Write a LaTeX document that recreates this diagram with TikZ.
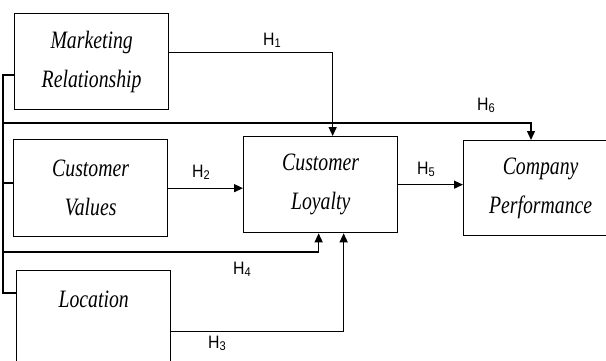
\documentclass[tikz,border=0pt]{standalone}
\usepackage{fontspec}
\newfontfamily\boxfont[FakeStretch=0.79]{Liberation Serif}
\newfontfamily\hfont[FakeStretch=0.88]{Liberation Sans}
\usepackage{tikz}
\usetikzlibrary{arrows.meta, positioning, calc}

\begin{document}
\begin{tikzpicture}[x=1pt, y=-1pt,
      varbox/.style={draw=black, line width=1.3pt, fill=white,
                    minimum width=154pt, minimum height=96pt, anchor=north west,
                    font=\boxfont\itshape\fontsize{25}{39}\selectfont, align=center},
      hyp/.style={font=\hfont\fontsize{18}{18}\selectfont, anchor=base west, inner sep=0pt},
      link/.style={line width=1.3pt},
      arr/.style={line width=1.3pt, -{Triangle[length=9pt,width=8pt]}}
    ]
      \clip (0,0) rectangle (606,360);

      \node[varbox] (mr) at (14,13) {Marketing\\Relationship};
      \node[varbox, minimum height=97pt] (cv) at (13,139) {Customer\\Values};
      \node[varbox] (loc) at (16,270) {Location\\\mbox{}};
      \node[varbox] (cl) at (243,136) {Customer\\Loyalty};
      \node[varbox, minimum height=95pt] (cp) at (463,140) {Company\\Performance};

      % trunk on the left
      \coordinate (trk1) at (3,75);
      \coordinate (trk2) at (3,183);
      \coordinate (trk3) at (3,293);
      \coordinate (trk6) at (3,123);
      \coordinate (trk4) at (3,252);

      \draw[link] (trk1 -| mr.west) -- (trk1) -- (trk3) -- (trk3 -| loc.west);
      \draw[link] (trk2) -- (trk2 -| cv.west);

      \draw[arr] ([yshift=9pt]mr.east) -| ([xshift=12pt]cl.north);
      \draw[arr] (cv.east) -- (cv.east -| cl.west);
      \draw[arr] ([yshift=-13pt]loc.east) -| ([xshift=23pt]cl.south);
      \draw[arr] (trk4) -| ([xshift=-2pt]cl.south);
      \draw[arr] (cl.east) -- (cl.east -| cp.west);
      \draw[arr] (trk6) -| ($(cp.north west)+(68,0)$);

      \node[hyp] (h1) at (263,45) {H\textsubscript{1}};
      \node[hyp] (h2) at (192,177) {H\textsubscript{2}};
      \node[hyp] (h3) at (208,348) {H\textsubscript{3}};
      \node[hyp] (h4) at (233,274) {H\textsubscript{4}};
      \node[hyp] (h5) at (417,174) {H\textsubscript{5}};
      \node[hyp] (h6) at (477,110) {H\textsubscript{6}};
    \end{tikzpicture}
\end{document}
